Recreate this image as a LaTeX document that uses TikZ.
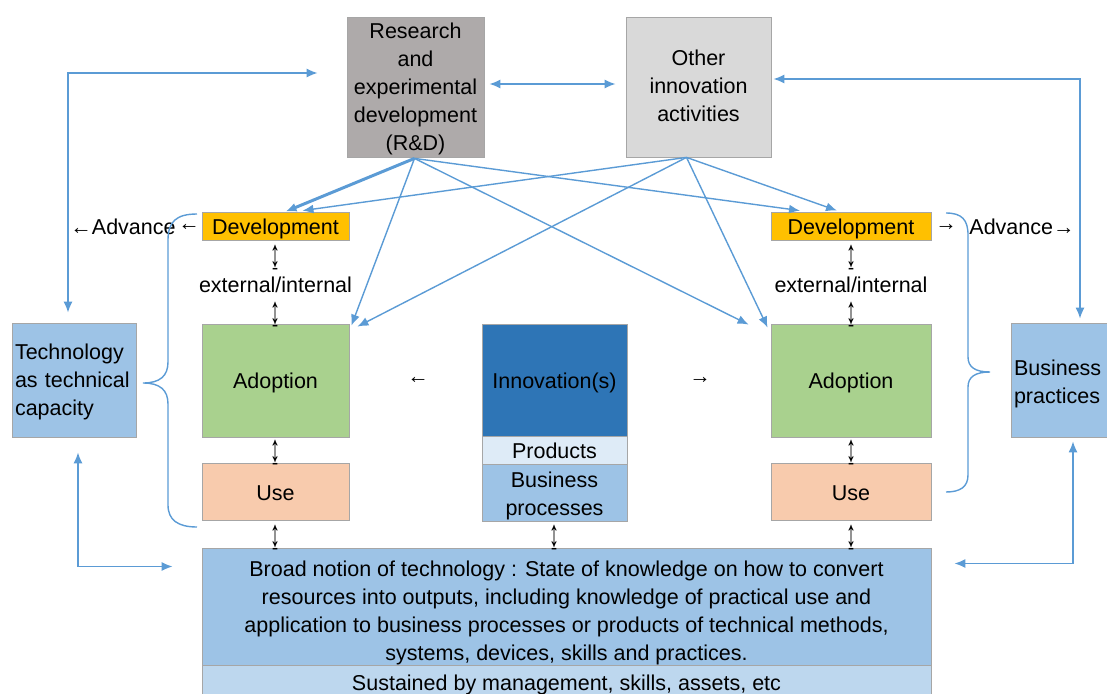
\documentclass[tikz,border=0pt]{standalone}
\usepackage{fontspec}
\setmainfont{Liberation Sans}
\usetikzlibrary{arrows.meta,calc}
\definecolor{cgrayA}{HTML}{AEAAAA}
\definecolor{cgrayB}{HTML}{D9D9D9}
\definecolor{cdev}{HTML}{FFC000}
\definecolor{cadopt}{HTML}{A9D18E}
\definecolor{cuse}{HTML}{F8CBAD}
\definecolor{cinno}{HTML}{2E75B6}
\definecolor{cprod}{HTML}{DEEBF7}
\definecolor{cmid}{HTML}{9DC3E6}
\definecolor{clight}{HTML}{BDD7EE}
\definecolor{cconn}{HTML}{5B9BD5}
\definecolor{cedge}{HTML}{A6A6A6}
\newcommand{\bt}[2]{\raisebox{-#1}[\height][\depth]{\begin{tabular}{@{}c@{}}#2\end{tabular}}}
\newcommand{\btl}[2]{\raisebox{-#1}[\height][\depth]{\begin{tabular}{@{}l@{}}#2\end{tabular}}}
\newcommand{\updn}{\scalebox{1}[1.9]{↨}}
\begin{document}
\begin{tikzpicture}[x=1pt,y=-1pt,
  box/.style={draw=cedge, line width=0.8pt, inner sep=0pt, align=center,
    font=\fontsize{21.5}{28}\selectfont},
  lbl/.style={inner sep=0pt, font=\fontsize{21.5}{28}\selectfont},
  tick/.style={inner sep=0pt, font=\fontsize{20}{20}\selectfont},
  conn/.style={draw=cconn, line width=1.4pt, -{Latex[length=11pt,width=9pt]}},
  bconn/.style={draw=cconn, line width=1.4pt, {Latex[length=11pt,width=9pt]}-{Latex[length=11pt,width=9pt]}},
  brace/.style={draw=cconn, line width=1.4pt}
]
\useasboundingbox (0,0) rectangle (1107,693);
% boxes
\node[box, fill=cgrayA, minimum width=137pt, minimum height=140pt] (rd) at (415.5,87) {\bt{2pt}{Research\\and\\experimental\\development\\(R\&D)}};
\node[box, fill=cgrayB, minimum width=145pt, minimum height=140pt] (oth) at (698.5,87) {\bt{1pt}{Other\\innovation\\activities}};
\node[box, fill=cdev, minimum width=147pt, minimum height=28pt] (devL) at (275.5,226) {\bt{3pt}{Development}};
\node[box, fill=cdev, minimum width=160pt, minimum height=28pt] (devR) at (851,226) {\bt{3pt}{Development}};
\node[box, fill=cadopt, minimum width=147pt, minimum height=113pt] (adL) at (275.5,380.5) {\bt{2pt}{Adoption}};
\node[box, fill=cadopt, minimum width=160pt, minimum height=113pt] (adR) at (851,380.5) {\bt{2pt}{Adoption}};
\node[box, fill=cuse, minimum width=147pt, minimum height=57pt] (useL) at (275.5,491.5) {\bt{3pt}{Use}};
\node[box, fill=cuse, minimum width=160pt, minimum height=57pt] (useR) at (851,491.5) {\bt{3pt}{Use}};
\node[box, fill=cinno, minimum width=145pt, minimum height=113pt] (inno) at (554.5,380.5) {\bt{2pt}{Innovation(s)}};
\node[box, fill=cprod, minimum width=145pt, minimum height=27pt] (prod) at (554.5,450.5) {\bt{2pt}{Products}};
\node[box, fill=cmid, minimum width=145pt, minimum height=57pt] (bproc) at (554.5,492.5) {\bt{3pt}{Business\\processes}};
\node[box, fill=cmid, minimum width=124pt, minimum height=114pt, text width=118pt, align=left] (tech) at (74,380) {\btl{2pt}{Technology\\as technical\\capacity}};
\node[box, fill=cmid, minimum width=114pt, minimum height=114pt, text width=108pt, align=left] (bprac) at (1068,380) {\btl{4pt}{Business\\practices}};
\node[box, fill=cmid, minimum width=729pt, minimum height=117pt] (broad) at (566.5,606.5) {\bt{6pt}{Broad notion of technology : State of knowledge on how to convert\\resources into outputs, including knowledge of practical use and\\application to business processes or products of technical methods,\\systems, devices, skills and practices.}};
\node[box, fill=clight, minimum width=729pt, minimum height=36pt, anchor=north] (sust) at (566.5,665) {\bt{1pt}{Sustained by management, skills, assets, etc}};
% labels
\node[lbl] (advL) at (123,227) {←Advance};
\node[lbl] (arL) at (189,227) {←};
\node[lbl] (arR) at (946,227) {→};
\node[lbl] (advR) at (1022,227) {Advance→};
\node[lbl] (eiL) at (275.5,285) {external/internal};
\node[lbl] (eiR) at (851,285) {external/internal};
\node[lbl] (inL) at (418,380) {←};
\node[lbl] (inR) at (700,380) {→};
% small up-down arrows
\node[tick] (t1) at (275.5,258) {\updn};
\node[tick] (t2) at (275.5,315) {\updn};
\node[tick] (t3) at (275.5,453) {\updn};
\node[tick] (t4) at (275.5,538) {\updn};
\node[tick] (t5) at (851,258) {\updn};
\node[tick] (t6) at (851,315) {\updn};
\node[tick] (t7) at (851,453) {\updn};
\node[tick] (t8) at (851,538) {\updn};
\node[tick] (t9) at (554.5,538) {\updn};
% connectors from R&D and other activities
\coordinate (rdS) at ($(rd.south)+(-1,1)$);
\coordinate (othS) at ($(oth.south)+(-12,0)$);
\draw[conn, line width=3pt] (rdS) -- ($(devL.north)+(10,0)$);
\draw[conn] (rdS) -- ($(adL.north east)+(2,2)$);
\draw[conn] (rdS) -- ($(devR.north)+(-51,-1)$);
\draw[conn] (rdS) -- ($(adR.north west)+(-22,1)$);
\draw[conn] (othS) -- ($(devL.north)+(27,-1)$);
\draw[conn] (othS) -- ($(adL.north east)+(8,3)$);
\draw[conn] (othS) -- ($(devR.north)+(-14,-1)$);
\draw[conn] (othS) -- ($(adR.north west)+(-3,4)$);
\draw[bconn] ($(rd.east)+(5,-3)$) -- ($(oth.west)+(-10,-3)$);
% loops
\draw[bconn] ($(tech.north)+(-6,-10)$) |- ($(rd.west)+(-29,-14)$);
\draw[bconn] ($(oth.east)+(2,-8)$) -| ($(bprac.north)+(12,-4)$);
\draw[bconn] ($(tech.south)+(4,15)$) |- ($(broad.west)+(-29,-40)$);
\draw[bconn] ($(bprac.south)+(5,4)$) |- ($(broad.east)+(23,-43)$);
% braces
\draw[brace] (197,214) .. controls (176,214) and (168,222) .. (168,240) -- (168,362) .. controls (168,376) and (160,383) .. (143,383) .. controls (160,383) and (168,390) .. (168,404) -- (168,505) .. controls (168,520) and (178,527) .. (197,527);
\draw[brace] (946,213) .. controls (962,213) and (968,220) .. (968,235) -- (968,357) .. controls (968,367) and (975,372) .. (990,372) .. controls (975,372) and (968,377) .. (968,387) -- (968,475) .. controls (968,487) and (960,492) .. (946,492);
\end{tikzpicture}
\end{document}
